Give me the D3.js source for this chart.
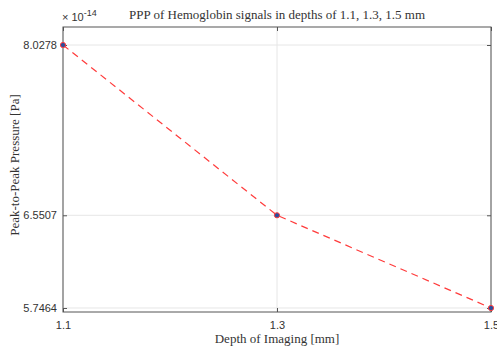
<!DOCTYPE html>
<html lang="en">
<head>
<meta charset="utf-8">
<title>PPP of Hemoglobin signals</title>
<script src="https://cdn.jsdelivr.net/npm/d3@7"></script>
<style>
  body { margin: 0; background: #fff; }
  svg { display: block; }
  .tick text { font-family: "Liberation Sans", Arial, sans-serif; font-size: 11px; fill: #333; }
  .serif { font-family: "Liberation Serif", "Times New Roman", serif; fill: #333; }
</style>
</head>
<body>
<div id="chart"></div>
<script>
// data
var depths = [1.1, 1.3, 1.5];            // mm
var ppp = [8.0278, 6.5507, 5.7464];       // x 1e-14 Pa
var xTicks = [1.1, 1.3, 1.5];
var yTicks = [5.7464, 6.5507, 8.0278];

var W = 497, H = 348;
var margin = {left: 63, right: 6, top: 27, bottom: 36};

var svg = d3.select("#chart").append("svg")
    .attr("width", W)
    .attr("height", H);

var x = d3.scaleLinear()
    .domain([1.1, 1.5])
    .range([margin.left, W - margin.right]);

var y = d3.scaleLinear()
    .domain([5.7117, 8.184])
    .range([H - margin.bottom, margin.top]);

var x0 = margin.left, x1 = W - margin.right;
var y0 = H - margin.bottom, y1 = margin.top;

// grid
svg.append("g").selectAll("line.gx")
    .data(xTicks).enter().append("line")
    .attr("x1", d => x(d)).attr("x2", d => x(d))
    .attr("y1", y0).attr("y2", y1)
    .attr("stroke", "#e6e6e6");
svg.append("g").selectAll("line.gy")
    .data(yTicks).enter().append("line")
    .attr("x1", x0).attr("x2", x1)
    .attr("y1", d => y(d)).attr("y2", d => y(d))
    .attr("stroke", "#e6e6e6");

// axes
var xAxis = svg.append("g")
    .attr("transform", "translate(0," + y0 + ")")
    .call(d3.axisBottom(x).tickValues(xTicks).tickFormat(d3.format(".1f")).tickSizeInner(-4).tickSizeOuter(0).tickPadding(9));
var yAxis = svg.append("g")
    .attr("transform", "translate(" + x0 + ",0)")
    .call(d3.axisLeft(y).tickValues(yTicks).tickFormat(d3.format(".4f")).tickSizeInner(-4).tickSizeOuter(0).tickPadding(6));
// top & right ticks (box)
svg.append("g")
    .attr("transform", "translate(0," + y1 + ")")
    .call(d3.axisTop(x).tickValues(xTicks).tickFormat("").tickSizeInner(-4).tickSizeOuter(0));
svg.append("g")
    .attr("transform", "translate(" + x1 + ",0)")
    .call(d3.axisRight(y).tickValues(yTicks).tickFormat("").tickSizeInner(-4).tickSizeOuter(0));

svg.selectAll(".domain").attr("stroke", "none");
svg.selectAll(".tick line").attr("stroke", "#555");

svg.append("rect")
    .attr("x", x0).attr("y", y1)
    .attr("width", x1 - x0).attr("height", y0 - y1)
    .attr("fill", "none")
    .attr("stroke", "#555")
    .attr("stroke-width", 1);

// line
var pts = depths.map((d, i) => [d, ppp[i]]);
svg.append("path")
    .datum(pts)
    .attr("fill", "none")
    .attr("stroke", "#ff3b3b")
    .attr("stroke-width", 1.2)
    .attr("stroke-dasharray", "7,5")
    .attr("d", d3.line().x(d => x(d[0])).y(d => y(d[1])));

svg.append("g").selectAll("circle")
    .data(pts).enter().append("circle")
    .attr("cx", d => x(d[0]))
    .attr("cy", d => y(d[1]))
    .attr("r", 2.6)
    .attr("fill", "#2a4f9e")
    .attr("stroke", "#ff3b3b")
    .attr("stroke-width", 1);

// exponent
var ex = svg.append("text")
    .attr("x", x0 - 1).attr("y", 21)
    .attr("font-family", "Liberation Sans, Arial, sans-serif")
    .attr("font-size", 11).attr("fill", "#333");
ex.append("tspan").text("\u00d7 10");
ex.append("tspan").attr("dy", -5).attr("font-size", 9).text("-14");

// title
svg.append("text")
    .attr("class", "serif")
    .attr("x", (x0 + x1) / 2).attr("y", 19)
    .attr("text-anchor", "middle")
    .attr("font-size", 13)
    .text("PPP of Hemoglobin signals in depths of 1.1, 1.3, 1.5 mm");

// x label
svg.append("text")
    .attr("class", "serif")
    .attr("x", (x0 + x1) / 2).attr("y", 343)
    .attr("text-anchor", "middle")
    .attr("font-size", 13)
    .text("Depth of Imaging [mm]");

// y label
svg.append("text")
    .attr("class", "serif")
    .attr("transform", "translate(19," + 165 + ") rotate(-90)")
    .attr("text-anchor", "middle")
    .attr("font-size", 13)
    .text("Peak-to-Peak Pressure [Pa]");
</script>
</body>
</html>
